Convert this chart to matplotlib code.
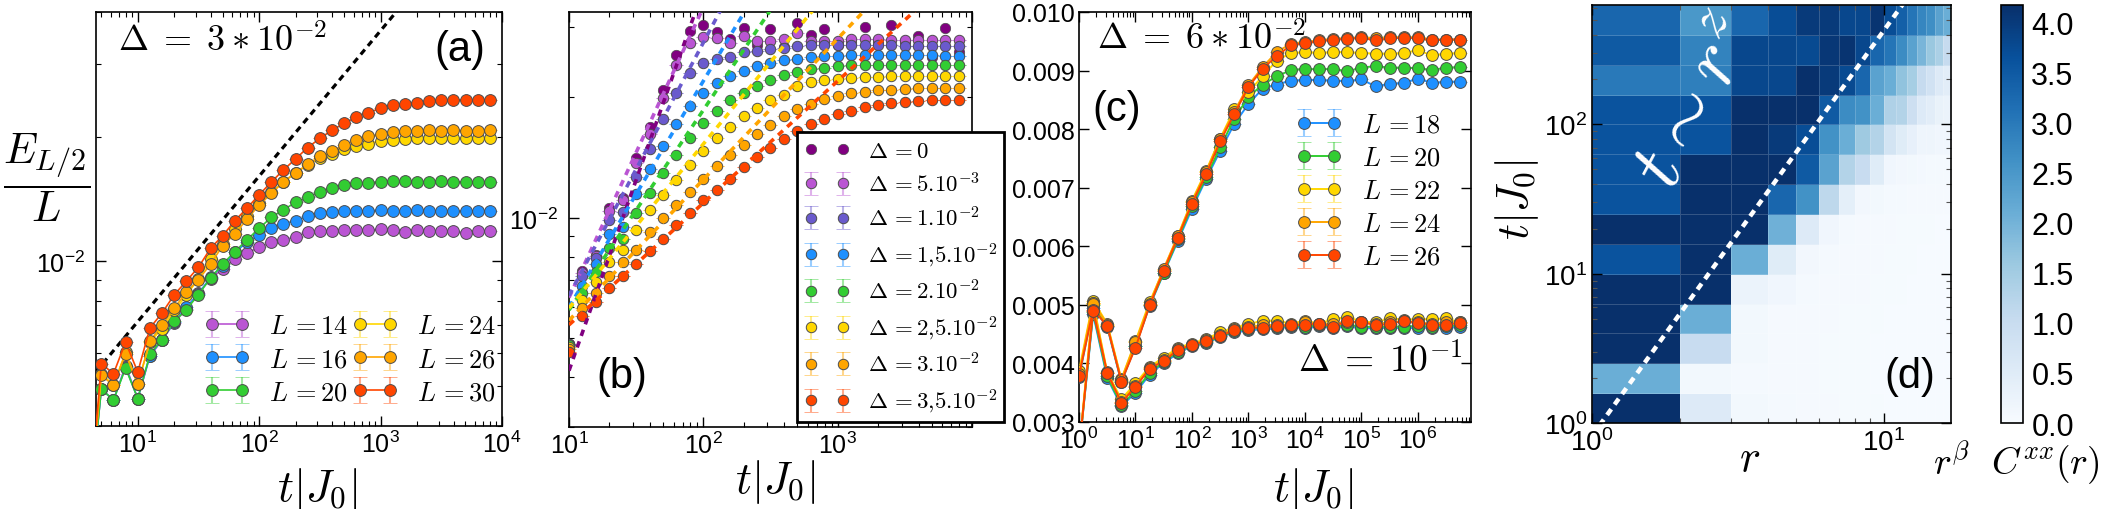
import numpy as np
import matplotlib
matplotlib.use("Agg")
import matplotlib.pyplot as plt
import matplotlib.colors as mcolors
from matplotlib.ticker import NullFormatter, FixedLocator, LogLocator, FormatStrFormatter

W, H = 2102, 510
plt.rcParams['font.family'] = ['Liberation Sans', 'DejaVu Sans']
plt.rcParams['mathtext.fontset'] = 'custom'
plt.rcParams['mathtext.rm'] = 'Liberation Sans'
plt.rcParams['mathtext.it'] = 'Liberation Sans:italic'
plt.rcParams['mathtext.bf'] = 'Liberation Sans:bold'
plt.rcParams['axes.linewidth'] = 1.2

#%% panel (a): entanglement growth, Delta = 3e-2 (values in units of 1e-3)
t_a = [3.98, 5.01, 6.31, 7.94, 10, 12.6, 15.8, 20, 25.1, 31.6, 39.8, 50.1, 63.1, 79.4,
       100, 126, 158, 200, 251, 316, 398, 501, 631, 794, 1000, 1259, 1585, 1995, 2512,
       3162, 3981, 5012, 6310, 7943]
ent_L14 = [2.5, 4.91, 4.62, 5.60, 4.66, 5.90, 6.44, 7.10, 7.68, 8.39, 9.07, 9.58, 10.13, 10.47,
           10.81, 11.11, 11.27, 11.42, 11.79, 11.81, 11.86, 11.88, 11.90, 11.90, 11.94, 11.88,
           11.79, 11.88, 11.83, 11.81, 11.81, 11.70, 11.81, 11.83]
ent_L16 = [2.5, 4.91, 4.62, 5.55, 4.66, 5.92, 6.46, 7.13, 7.74, 8.34, 9.15, 9.76, 10.51, 11.11,
           11.57, 12.01, 12.30, 12.53, 12.84, 13.05, 13.17, 13.20, 13.20, 13.25, 13.27, 13.22,
           13.22, 13.32, 13.22, 13.20, 13.20, 13.22, 13.25, 13.22]
ent_L20 = [2.5, 4.91, 4.62, 5.52, 4.66, 5.96, 6.47, 7.16, 7.63, 8.31, 9.10, 9.85, 10.55, 11.27,
           12.01, 12.77, 13.32, 13.87, 14.26, 14.72, 15.00, 15.28, 15.42, 15.48, 15.56, 15.59,
           15.59, 15.56, 15.56, 15.59, 15.54, 15.54, 15.54, 15.54]
ent_L24 = [2.5, 5.35, 5.02, 6.03, 5.06, 6.38, 6.87, 7.61, 8.27, 9.07, 10.13, 11.01, 11.97, 12.89,
           13.82, 14.66, 15.54, 16.32, 17.11, 17.72, 18.15, 18.65, 18.99, 19.17, 19.54, 19.61,
           19.72, 19.80, 19.80, 19.80, 19.80, 19.80, 19.80, 19.80]
ent_L26 = [2.5, 5.30, 5.02, 5.98, 5.04, 6.41, 7.00, 7.70, 8.42, 9.02, 9.85, 10.91, 11.64, 12.65,
           13.67, 14.58, 15.54, 16.38, 17.14, 17.92, 18.48, 19.07, 19.65, 20.02, 20.25, 20.48,
           20.60, 20.69, 20.72, 20.69, 20.72, 20.69, 20.69, 20.72]
ent_L30 = [2.5, 5.66, 5.35, 6.38, 5.40, 6.90, 7.49, 8.30, 8.95, 9.67, 10.75, 11.53, 12.53, 13.44,
           14.47, 15.54, 16.60, 17.68, 18.82, 19.80, 20.73, 21.53, 22.30, 22.86, 23.41, 23.82,
           24.04, 24.17, 24.40, 24.49, 24.54, 24.49, 24.49, 24.49]
sizes_a = [14, 16, 20, 24, 26, 30]
colors_a = ['mediumorchid', 'dodgerblue', 'limegreen', 'gold', 'orange', 'orangered']
guide_a_t = [4.5, 2000]
guide_a_y = [5.4e-3, 4.6e-2]

#%% panel (b): several disorder strengths (units of 1e-3)
t_b = [10, 12.6, 15.8, 20, 25.1, 31.6, 39.8, 50.1, 63.1, 79.4, 100, 126, 158, 200, 251, 316,
       398, 501, 631, 794, 1000, 1259, 1585, 1995, 2512, 3162, 3981, 5012, 6310, 7943]
ent_d0 = [4.84, 7.36, 8.08, 10.57, 11.22, 14.10, 16.85, 20.93, 25.56, 29.29, 30.26, 29.22, 28.02,
          29.80, 26.97, 29.69, 26.71, 30.67, 28.67, 29.69, 26.97, 27.49, 29.97, 27.49, 30.26,
          27.49, 28.56, 25.22, 29.85, 25.95]
ent_d5e3 = [4.84, 7.29, 8.05, 10.43, 11.05, 13.70, 16.22, 19.92, 24.04, 27.34, 28.29, 28.13, 27.39,
            28.56, 27.75, 27.75, 27.92, 28.95, 27.75, 27.75, 27.75, 28.02, 28.02, 27.92, 27.86,
            27.86, 27.86, 27.86, 27.86, 27.86]
ent_d1e2 = [4.84, 7.14, 7.93, 9.89, 10.33, 12.64, 14.87, 17.62, 20.50, 23.04, 24.36, 24.98, 25.22,
            25.95, 26.20, 26.36, 26.56, 26.82, 26.97, 26.97, 26.97, 26.97, 26.97, 26.97, 26.97,
            26.82, 26.82, 26.82, 26.82, 26.82]
ent_d15e3 = [4.80, 6.77, 7.67, 9.12, 9.51, 11.44, 13.21, 15.16, 17.18, 19.09, 20.54, 21.75, 22.61,
             23.35, 23.94, 24.41, 24.83, 24.98, 25.22, 25.36, 25.45, 25.56, 25.56, 25.56, 25.56,
             25.56, 25.56, 25.56, 25.45, 25.45]
ent_d2e2 = [4.80, 6.48, 7.32, 8.41, 8.83, 10.27, 11.55, 12.96, 14.32, 15.82, 17.28, 18.48, 19.65,
            20.54, 21.34, 22.13, 22.70, 23.13, 23.49, 23.71, 23.90, 24.04, 24.04, 24.04, 24.04,
            24.04, 24.04, 24.04, 24.04, 24.04]
ent_d25e3 = [4.75, 6.24, 6.93, 7.75, 8.33, 9.33, 10.47, 11.42, 12.45, 13.57, 14.73, 15.85, 16.85,
             17.95, 18.80, 19.65, 20.30, 21.34, 21.83, 22.13, 22.26, 22.39, 22.47, 22.51, 22.56,
             22.56, 22.56, 22.56, 22.56, 22.56]
ent_d3e2 = [4.71, 5.96, 6.48, 7.15, 7.75, 8.33, 9.24, 9.98, 10.78, 11.59, 12.52, 13.44, 14.37,
            15.25, 16.22, 17.02, 17.95, 18.73, 19.28, 19.84, 20.22, 20.50, 20.69, 20.85, 20.93,
            21.01, 21.09, 21.09, 21.09, 21.09]
ent_d35e3 = [4.63, 5.67, 6.15, 6.67, 7.15, 7.65, 8.25, 8.86, 9.62, 10.29, 11.05, 11.77, 12.52,
             13.39, 14.21, 14.96, 15.76, 16.44, 17.18, 17.68, 18.16, 18.54, 18.91, 19.16, 19.35,
             19.46, 19.61, 19.65, 19.65, 19.70]
labels_b = [r'$\Delta\,=0$', r'$\Delta\,=5.10^{-3}$', r'$\Delta\,=1.10^{-2}$',
            r'$\Delta\,=1{,}5.10^{-2}$', r'$\Delta\,=2.10^{-2}$', r'$\Delta\,=2{,}5.10^{-2}$',
            r'$\Delta\,=3.10^{-2}$', r'$\Delta\,=3{,}5.10^{-2}$']
colors_b = ['purple', 'mediumorchid', 'slateblue', 'dodgerblue', 'limegreen', 'gold', 'orange',
            'orangered']
# power-law fits (start at t=10, end past the top of the axes)
fit_y0 = [4.15, 6.32, 6.39, 5.98, 5.88, 5.95, 5.54, 5.40]
fit_t1 = [100, 100, 200, 300, 400, 1000, 2000, 5000]
fit_y1 = [37.3, 33.6, 42.5, 40.9, 37.2, 39.3, 35.8, 35.9]

#%% panel (c): Delta = 6e-2 (upper) and 1e-1 (lower), units of 1e-3
t_c = [1, 1.78, 3.16, 5.62, 10, 17.8, 31.6, 56.2, 100, 178, 316, 562, 1000, 1778, 3162, 5623,
       1e4, 17783, 31623, 56234, 1e5, 177828, 316228, 562341, 1e6, 1778279, 3162278, 5623413]
hi_L18 = [3.76, 4.95, 4.62, 3.68, 4.30, 4.98, 5.54, 6.09, 6.64, 7.15, 7.63, 8.09, 8.43, 8.69,
          8.76, 8.83, 8.84, 8.84, 8.83, 8.82, 8.85, 8.73, 8.775, 8.79, 8.86, 8.79, 8.81, 8.81]
hi_L20 = [3.80, 5.00, 4.64, 3.70, 4.30, 5.00, 5.55, 6.12, 6.69, 7.18, 7.69, 8.18, 8.55, 8.76,
          8.90, 9.01, 9.03, 9.02, 9.03, 8.985, 9.05, 9.076, 9.05, 9.05, 9.04, 9.01, 9.05, 9.06]
hi_L22 = [3.87, 5.07, 4.68, 3.73, 4.38, 5.05, 5.60, 6.18, 6.78, 7.29, 7.84, 8.34, 8.63, 8.905,
          9.17, 9.30, 9.315, 9.305, 9.315, 9.315, 9.30, 9.29, 9.29, 9.30, 9.345, 9.26, 9.29, 9.30]
hi_L24 = [3.82, 5.04, 4.66, 3.72, 4.36, 5.02, 5.62, 6.17, 6.76, 7.27, 7.83, 8.30, 8.75, 9.06,
          9.315, 9.46, 9.49, 9.515, 9.545, 9.555, 9.57, 9.555, 9.57, 9.57, 9.57, 9.53, 9.53, 9.53]
hi_L26 = [3.79, 4.92, 4.64, 3.69, 4.27, 4.99, 5.58, 6.15, 6.73, 7.23, 7.79, 8.26, 8.72, 9.03,
          9.25, 9.43, 9.475, 9.50, 9.53, 9.545, 9.56, 9.515, 9.555, 9.555, 9.555, 9.515, 9.53, 9.53]
lo_L18 = [2.5, 4.84, 3.75, 3.27, 3.50, 3.81, 4.01, 4.17, 4.30, 4.35, 4.45, 4.53, 4.57, 4.58,
          4.60, 4.63, 4.60, 4.64, 4.60, 4.64, 4.60, 4.60, 4.61, 4.60, 4.61, 4.61, 4.61, 4.63]
lo_L20 = [2.5, 4.88, 3.78, 3.29, 3.53, 3.84, 4.03, 4.20, 4.31, 4.36, 4.46, 4.55, 4.59, 4.61,
          4.62, 4.64, 4.63, 4.65, 4.62, 4.66, 4.63, 4.62, 4.63, 4.63, 4.64, 4.63, 4.64, 4.65]
lo_L22 = [2.5, 5.04, 3.85, 3.39, 3.66, 3.945, 4.10, 4.27, 4.34, 4.42, 4.53, 4.61, 4.67, 4.73,
          4.73, 4.68, 4.73, 4.68, 4.755, 4.795, 4.715, 4.70, 4.77, 4.75, 4.755, 4.755, 4.77, 4.70]
lo_L24 = [2.5, 5.01, 3.83, 3.35, 3.62, 3.92, 4.06, 4.25, 4.32, 4.40, 4.49, 4.58, 4.63, 4.65,
          4.66, 4.66, 4.70, 4.68, 4.68, 4.70, 4.70, 4.68, 4.70, 4.72, 4.70, 4.68, 4.70, 4.71]
lo_L26 = [2.5, 4.90, 3.84, 3.33, 3.60, 3.91, 4.04, 4.23, 4.32, 4.38, 4.47, 4.57, 4.61, 4.61,
          4.64, 4.65, 4.66, 4.68, 4.63, 4.72, 4.70, 4.66, 4.67, 4.73, 4.69, 4.66, 4.66, 4.69]
sizes_c = [18, 20, 22, 24, 26]
colors_c = ['dodgerblue', 'limegreen', 'gold', 'orange', 'orangered']

#%% panel (d): r^beta C^xx(r) heat map, rows from small t to large t
r_edges = [1, 2, 3, 4, 5, 6, 7, 8, 9, 10, 11, 12, 13, 14, 15, 16, 17]
t_edges = [1, 1.585, 2.512, 3.981, 6.310, 10, 15.85, 25.12, 39.81, 63.10, 100, 158.5, 251.2,
           398.1, 631.0]
corr_rows = [
    [4.5, 0.55, 0.10, 0.07, 0.05, 0.05, 0.04, 0.04, 0.04, 0.03, 0.03, 0.03, 0.03, 0.03, 0.03, 0.03],
    [2.1, 0.10, 0.07, 0.05, 0.05, 0.04, 0.04, 0.04, 0.03, 0.03, 0.03, 0.03, 0.03, 0.03, 0.03, 0.03],
    [4.5, 1.0, 0.10, 0.05, 0.05, 0.04, 0.04, 0.04, 0.03, 0.03, 0.03, 0.03, 0.03, 0.03, 0.03, 0.03],
    [4.5, 2.1, 0.10, 0.05, 0.05, 0.05, 0.04, 0.04, 0.04, 0.03, 0.03, 0.03, 0.03, 0.03, 0.03, 0.03],
    [4.5, 4.5, 0.25, 0.15, 0.08, 0.06, 0.05, 0.05, 0.04, 0.04, 0.04, 0.03, 0.03, 0.03, 0.03, 0.03],
    [3.6, 4.5, 2.1, 0.5, 0.12, 0.08, 0.06, 0.05, 0.05, 0.04, 0.04, 0.04, 0.03, 0.03, 0.03, 0.03],
    [4.5, 4.5, 4.5, 2.05, 0.55, 0.15, 0.08, 0.06, 0.05, 0.05, 0.04, 0.04, 0.04, 0.04, 0.03, 0.03],
    [3.6, 4.5, 4.5, 3.3, 2.6, 1.15, 0.4, 0.12, 0.10, 0.08, 0.07, 0.06, 0.05, 0.05, 0.05, 0.05],
    [3.6, 4.5, 4.5, 4.2, 3.5, 2.3, 1.3, 1.0, 0.5, 0.15, 0.12, 0.10, 0.09, 0.08, 0.07, 0.07],
    [3.6, 3.6, 4.5, 4.0, 3.7, 2.6, 2.1, 1.55, 1.3, 0.75, 0.5, 0.35, 0.2, 0.18, 0.16, 0.15],
    [3.6, 3.6, 4.3, 4.2, 4.2, 3.5, 2.7, 2.6, 2.1, 1.35, 1.3, 0.9, 0.55, 0.45, 0.3, 0.25],
    [3.0, 2.9, 3.8, 3.8, 4.2, 4.0, 3.75, 3.3, 2.3, 2.1, 1.7, 1.45, 1.05, 0.8, 0.55, 0.45],
    [3.5, 2.85, 3.8, 3.8, 3.75, 4.05, 4.1, 3.8, 3.3, 3.05, 2.7, 2.3, 1.95, 1.6, 1.4, 1.05],
    [3.3, 2.5, 3.3, 3.7, 4.0, 4.0, 3.8, 3.8, 4.1, 3.7, 3.4, 3.05, 2.8, 2.65, 2.3, 2.1],
]
guide_d_r = [1.0, 12.0]
guide_d_t = [0.82, 697]
cbar_ticks = [0.0, 0.5, 1.0, 1.5, 2.0, 2.5, 3.0, 3.5, 4.0]

#%% helpers
fig = plt.figure(figsize=(W / 100, H / 100), dpi=100)


def box(l, r, t, b):
    return fig.add_axes([l / W, 1 - b / H, (r - l) / W, (b - t) / H])


def ftext(x, y, s, **kw):
    return fig.text(x / W, 1 - y / H, s, **kw)


def soft(c):
    return mcolors.to_rgba(c, 0.45)


def frame(ax, size):
    ax.tick_params(which='both', direction='in', top=True, right=True, labelsize=size)
    ax.tick_params(which='major', length=7, width=1)
    ax.tick_params(which='minor', length=3.5, width=0.8)


def cm(leg):
    for t in leg.get_texts():
        t.set_math_fontfamily('cm')


def eb(ax, t, vals, col, ms, **kw):
    y = np.array(vals) * 1e-3
    c = ax.errorbar(t, y, yerr=np.zeros_like(y), color=col, ms=ms, marker='o', mec='#4d4d4d',
                    mew=0.7, ecolor=soft(col), elinewidth=1.5, capsize=5, capthick=1.5, **kw)
    c[0].set_zorder(3)
    for cap in c[1]:
        cap.set_zorder(1)
    return c


#%% (a)
ax = box(96, 502, 13, 427)
for L, vals, col in zip(sizes_a, [ent_L14, ent_L16, ent_L20, ent_L24, ent_L26, ent_L30], colors_a):
    eb(ax, t_a, vals, col, 8.5, lw=1.2, label=rf'$L\,={L}$')
ax.plot(guide_a_t, guide_a_y, color='black', lw=2.3, ls=(0, (2.0, 1.5)), zorder=1)
ax.set_xscale('log')
ax.set_yscale('log')
ax.set_xlim(4.53, 1e4)
ax.set_ylim(4e-3, 4e-2)
ax.yaxis.set_major_locator(FixedLocator([1e-2]))
ax.yaxis.set_minor_formatter(NullFormatter())
frame(ax, 18)
ax.tick_params(axis='y', pad=8)
leg = ax.legend(ncol=2, loc='lower right', bbox_to_anchor=(0.985, 0.053), frameon=False,
                fontsize=19, numpoints=2, handlelength=1.75, handletextpad=0.7,
                columnspacing=0.15, labelspacing=0.34, borderpad=0, borderaxespad=0)
cm(leg)
ftext(118, 42, r'$\Delta\;=\;3\:*\:10^{-2}$', fontsize=26, math_fontfamily='cm', va='center')
ftext(460, 50, '(a)', fontsize=30, ha='center', va='center')
ftext(47, 178, r'$\dfrac{E_{L/2}}{L}$', fontsize=31, math_fontfamily='cm', ha='center',
      va='center')
ftext(317, 490, r'$t|J_0|$', fontsize=32, math_fontfamily='cm', ha='center', va='center')

#%% (b)
ax = box(569, 972, 13, 428)
ents_b = [ent_d0, ent_d5e3, ent_d1e2, ent_d15e3, ent_d2e2, ent_d25e3, ent_d3e2, ent_d35e3]
for i, (vals, col, lab) in enumerate(zip(ents_b, colors_b, labels_b)):
    if i == 0:
        ax.plot(t_b, np.array(vals) * 1e-3, 'o', color=col, ms=7.5, mec='#4d4d4d', mew=0.5,
                label=lab, zorder=3)
    else:
        eb(ax, t_b, vals, col, 7.5, ls='none', label=lab)
for y0, t1, y1, col in zip(fit_y0, fit_t1, fit_y1, colors_b):
    ax.plot([10, t1], [y0 * 1e-3, y1 * 1e-3], color=col, lw=2.6, ls=(0, (1.8, 1.6)), zorder=4)
ax.set_xscale('log')
ax.set_yscale('log')
ax.set_xlim(10, 1e4)
ax.set_ylim(3e-3, 3.27e-2)
ax.set_xticks([10, 100, 1000, 10000])
ax.set_xticklabels([r'$\mathdefault{10^{1}}$', r'$\mathdefault{10^{2}}$',
                    r'$\mathdefault{10^{3}}$', ''])
ax.yaxis.set_major_locator(FixedLocator([1e-2]))
ax.yaxis.set_minor_formatter(NullFormatter())
frame(ax, 18)
ax.tick_params(axis='y', pad=8)
leg = ax.legend(loc='upper left', bbox_to_anchor=(0.566, 0.711), frameon=True, fancybox=False,
                edgecolor='black', framealpha=1, fontsize=16.5, numpoints=2, handlelength=2.0,
                handletextpad=0.8, labelspacing=0.45, borderpad=0.3, borderaxespad=0)
leg.get_frame().set_linewidth(2)
leg.set_zorder(10)
cm(leg)
ftext(622, 377, '(b)', fontsize=30, ha='center', va='center')
ftext(775, 482, r'$t|J_0|$', fontsize=32, math_fontfamily='cm', ha='center', va='center')

#%% (c)
ax = box(1079, 1471, 13, 423)
his = [hi_L18, hi_L20, hi_L22, hi_L24, hi_L26]
los = [lo_L18, lo_L20, lo_L22, lo_L24, lo_L26]
for L, hi, lo, col in zip(sizes_c, his, los, colors_c):
    eb(ax, t_c, hi, col, 8.5, lw=1.4, label=rf'$L\,={L}$')
    eb(ax, t_c, lo, col, 8.5, lw=1.4)
ax.set_xscale('log')
ax.set_xlim(1, 8.7e6)
ax.set_ylim(0.003, 0.010)
ax.xaxis.set_major_locator(LogLocator(base=10, numticks=12))
ax.xaxis.set_minor_locator(LogLocator(base=10, subs=np.arange(2, 10), numticks=12))
ax.xaxis.set_minor_formatter(NullFormatter())
ax.set_yticks(np.arange(0.003, 0.0101, 0.001))
ax.yaxis.set_major_formatter(FormatStrFormatter('%.3f'))
frame(ax, 18)
ax.tick_params(axis='y', pad=3)
leg = ax.legend(loc='upper left', bbox_to_anchor=(0.553, 0.754), frameon=False, fontsize=19,
                numpoints=2, handlelength=1.75, handletextpad=0.75, labelspacing=0.34,
                borderpad=0, borderaxespad=0)
cm(leg)
ftext(1097, 40, r'$\Delta\;=\;6\:*\:10^{-2}$', fontsize=26, math_fontfamily='cm', va='center')
ftext(1298, 362, r'$\Delta\;=\;10^{-1}$', fontsize=27, math_fontfamily='cm', va='center')
ftext(1117, 110, '(c)', fontsize=30, ha='center', va='center')
ftext(1313, 490, r'$t|J_0|$', fontsize=32, math_fontfamily='cm', ha='center', va='center')

#%% (d)
ax = box(1592, 1951, 6, 424)
mesh = ax.pcolormesh(r_edges, t_edges, np.array(corr_rows), cmap='Blues', vmin=0, vmax=4.17,
                     edgecolors=(1, 1, 1, 0.18), linewidth=0.6)
ax.plot(guide_d_r, guide_d_t, color='white', lw=3.2, ls=(0, (1.6, 1.3)))
ax.set_xscale('log')
ax.set_yscale('log')
ax.set_xlim(1, 17)
ax.set_ylim(1, 631)
ax.xaxis.set_minor_formatter(NullFormatter())
frame(ax, 20)
ax.tick_params(which='minor', color='#555555')
ftext(1697, 102, r'$t\sim r^z$', fontsize=56, math_fontfamily='cm', color='white', rotation=62,
      ha='center', va='center')
ftext(1910, 377, '(d)', fontsize=30, ha='center', va='center')
ftext(1750, 460, r'$r$', fontsize=32, math_fontfamily='cm', ha='center', va='center')
ftext(1517, 200, r'$t|J_0|$', fontsize=32, math_fontfamily='cm', ha='center', va='center',
      rotation=90)

cax = box(2001, 2023, 6, 424)
cb = fig.colorbar(mesh, cax=cax, ticks=cbar_ticks)
cb.ax.yaxis.set_major_formatter(FormatStrFormatter('%.1f'))
cb.ax.tick_params(labelsize=22, length=0, pad=6)
cb.outline.set_linewidth(1.2)
ftext(2100, 463, r'$r^{\beta}\ \ C^{xx}(r)$', fontsize=27, math_fontfamily='cm', ha='right',
      va='center')

fig.savefig('out.png', dpi=100)
